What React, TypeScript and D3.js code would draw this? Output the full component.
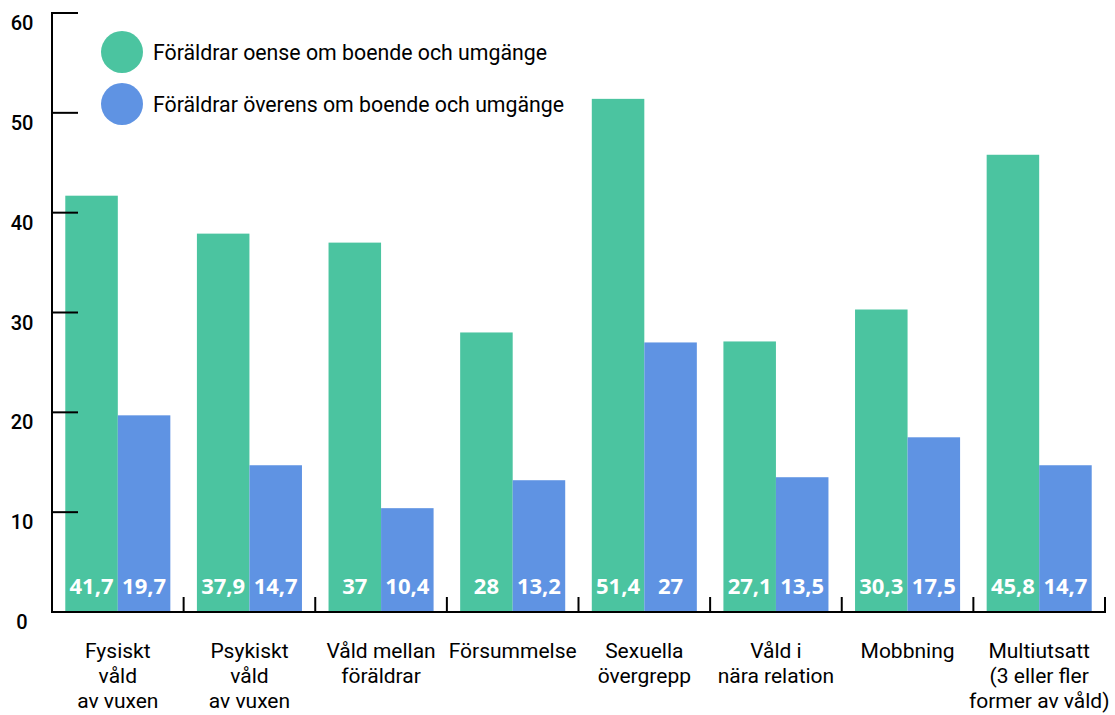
import React from "react";
import * as d3 from "d3";

const categories: string[][] = [
  ["Fysiskt", "våld", "av vuxen"],
  ["Psykiskt", "våld", "av vuxen"],
  ["Våld mellan", "föräldrar"],
  ["Försummelse"],
  ["Sexuella", "övergrepp"],
  ["Våld i", "nära relation"],
  ["Mobbning"],
  ["Multiutsatt", "(3 eller fler", "former av våld)"],
];
const oense: number[] = [41.7, 37.9, 37, 28, 51.4, 27.1, 30.3, 45.8];
const overens: number[] = [19.7, 14.7, 10.4, 13.2, 27, 13.5, 17.5, 14.7];
const seriesNames: string[] = [
  "Föräldrar oense om boende och umgänge",
  "Föräldrar överens om boende och umgänge",
];
const colors: string[] = ["#4BC4A0", "#5F93E3"];
const yTicks: number[] = [0, 10, 20, 30, 40, 50, 60];

const W = 1115;
const H = 715;
const left = 52;
const right = 1105;
const top = 13;
const bottom = 612;

export default function App() {
  const x = d3
    .scaleBand<number>()
    .domain(d3.range(categories.length))
    .range([left, right])
    .paddingInner(0)
    .paddingOuter(0);
  const inner = d3
    .scaleBand<number>()
    .domain([0, 1])
    .range([0, x.bandwidth()])
    .paddingOuter(0.253)
    .paddingInner(0);
  const y = d3.scaleLinear().domain([0, 60]).range([bottom, top]);
  const series = [oense, overens];
  const fmt = (v: number) => String(v).replace(".", ",");

  return (
    <svg
      width={W}
      height={H}
      style={{ position: "absolute", left: 0, top: 0, background: "#fff" }}
    >
      {series.map((s, si) =>
        s.map((v, i) => (
          <rect
            key={`b${si}-${i}`}
            x={(x(i) as number) + (inner(si) as number)}
            y={y(v)}
            width={inner.bandwidth()}
            height={bottom - y(v)}
            fill={colors[si]}
          />
        ))
      )}
      {series.map((s, si) =>
        s.map((v, i) => (
          <text
            key={`v${si}-${i}`}
            x={(x(i) as number) + (inner(si) as number) + inner.bandwidth() / 2}
            y={585}
            textAnchor="middle"
            dominantBaseline="central"
            fill="#fff"
            fontFamily="'Open Sans', sans-serif"
            fontWeight={700}
            fontSize={22}
          >
            {fmt(v)}
          </text>
        ))
      )}
      <line x1={left} x2={left} y1={top - 1} y2={bottom + 1} stroke="#000" strokeWidth={2} />
      {yTicks.map((t) => (
        <g key={`t${t}`}>
          {t > 0 && (
            <line x1={left} x2={left + 26} y1={y(t)} y2={y(t)} stroke="#000" strokeWidth={2} />
          )}
          <text
            x={22}
            y={y(t) + 10}
            textAnchor="middle"
            dominantBaseline="central"
            fontFamily="Roboto, sans-serif"
            fontWeight={500}
            fontSize={20}
            fill="#000"
          >
            {t}
          </text>
        </g>
      ))}
      <line x1={left} x2={right + 1} y1={bottom} y2={bottom} stroke="#000" strokeWidth={2} />
      {categories.map((_, i) => (
        <line
          key={`xt${i}`}
          x1={(x(i) as number) + x.bandwidth()}
          x2={(x(i) as number) + x.bandwidth()}
          y1={bottom - 15}
          y2={bottom}
          stroke="#000"
          strokeWidth={2}
        />
      ))}
      {categories.map((lines, i) => (
        <text
          key={`c${i}`}
          textAnchor="middle"
          fontFamily="Roboto, sans-serif"
          fontWeight={400}
          fontSize={21}
          fill="#000"
        >
          {lines.map((ln, li) => (
            <tspan
              key={li}
              x={(x(i) as number) + x.bandwidth() / 2}
              y={651 + li * 25}
              dominantBaseline="central"
            >
              {ln}
            </tspan>
          ))}
        </text>
      ))}
      {seriesNames.map((n, i) => (
        <g key={`l${i}`}>
          <circle cx={122} cy={52 + i * 52} r={21} fill={colors[i]} />
          <text
            x={153}
            y={52 + i * 52}
            dominantBaseline="central"
            fontFamily="Roboto, sans-serif"
            fontWeight={400}
            fontSize={21.3}
            fill="#000"
          >
            {n}
          </text>
        </g>
      ))}
    </svg>
  );
}
